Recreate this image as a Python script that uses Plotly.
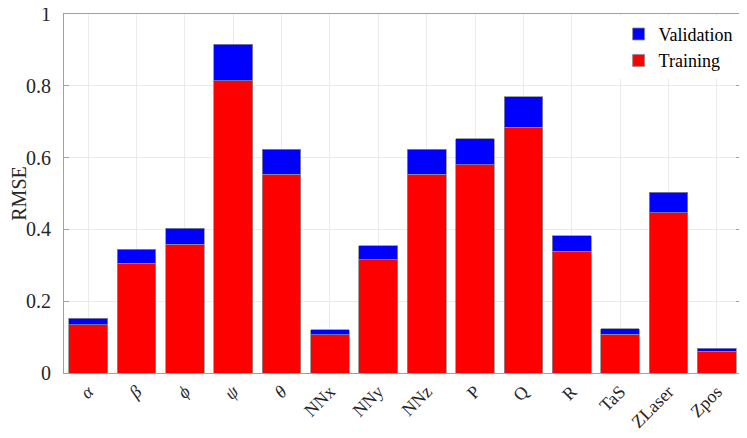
import plotly.graph_objects as go

categories = ["α", "β", "ϕ", "ψ", "θ", "NNx", "NNy", "NNz", "P", "Q", "R", "TaS", "ZLaser", "Zpos"]
tick_labels = ["<i>α</i>", "<i>β</i>", "<i>ϕ</i>", "<i>ψ</i>", "<i>θ</i>", "NNx", "NNy", "NNz", "P", "Q", "R", "TaS", "ZLaser", "Zpos"]
training = [0.134, 0.306, 0.358, 0.814, 0.553, 0.106, 0.315, 0.553, 0.580, 0.684, 0.339, 0.108, 0.447, 0.060]
total = [0.152, 0.345, 0.403, 0.916, 0.623, 0.121, 0.355, 0.623, 0.653, 0.770, 0.383, 0.123, 0.503, 0.069]
validation = [round(t - r, 4) for t, r in zip(total, training)]
y_ticks = [0, 0.2, 0.4, 0.6, 0.8, 1]
y_tick_labels = ["0", "0.2", "0.4", "0.6", "0.8", "1"]

FONT = "Liberation Serif, DejaVu Serif, serif"
TXT = "#262626"
AX = "#a0a0a0"

fig = go.Figure()
fig.add_trace(go.Bar(x=categories, y=training, name="Training",
                     marker=dict(color="#ff0000", line=dict(color="#8c8c8c", width=0.8))))
fig.add_trace(go.Bar(x=categories, y=validation, name="Validation",
                     marker=dict(color="#0000ff", line=dict(color="#8c8c8c", width=0.8))))

# the page body adds an 8px offset; size the figure so the plot area lands where the reference has it
fig.update_layout(
    template="simple_white",
    width=739, height=430,
    barmode="stack", bargap=0.2,
    plot_bgcolor="white", paper_bgcolor="white",
    margin=dict(l=56, r=6, t=6, b=65, autoexpand=False),
    font=dict(family=FONT, color=TXT, size=18),
    showlegend=True,
    legend=dict(x=0.995, y=0.995, xanchor="right", yanchor="top", bgcolor="rgba(255,255,255,1)",
                font=dict(family=FONT, size=18, color="#000000"), traceorder="reversed"),
    xaxis=dict(
        type="category", tickmode="array", tickvals=categories, ticktext=tick_labels,
        tickangle=-45,
        showgrid=True, gridcolor="#ebebeb", gridwidth=1,
        showline=True, linecolor=AX, linewidth=1, mirror=True,
        ticks="", 
        tickfont=dict(family=FONT, size=18, color=TXT),
        zeroline=False,
    ),
    yaxis=dict(
        range=[0, 1], tickmode="array", tickvals=y_ticks, ticktext=y_tick_labels,
        ticklabeloverflow="allow", ticklabelstandoff=8,
        showgrid=True, gridcolor="#ebebeb", gridwidth=1,
        showline=True, linecolor=AX, linewidth=1, mirror="ticks",
        ticks="inside", ticklen=5, tickcolor=AX,
        tickfont=dict(family=FONT, size=20, color=TXT),
        title=dict(text="RMSE", font=dict(family=FONT, size=20, color=TXT), standoff=8),
        zeroline=False,
    ),
)

fig.write_html("out.html")
